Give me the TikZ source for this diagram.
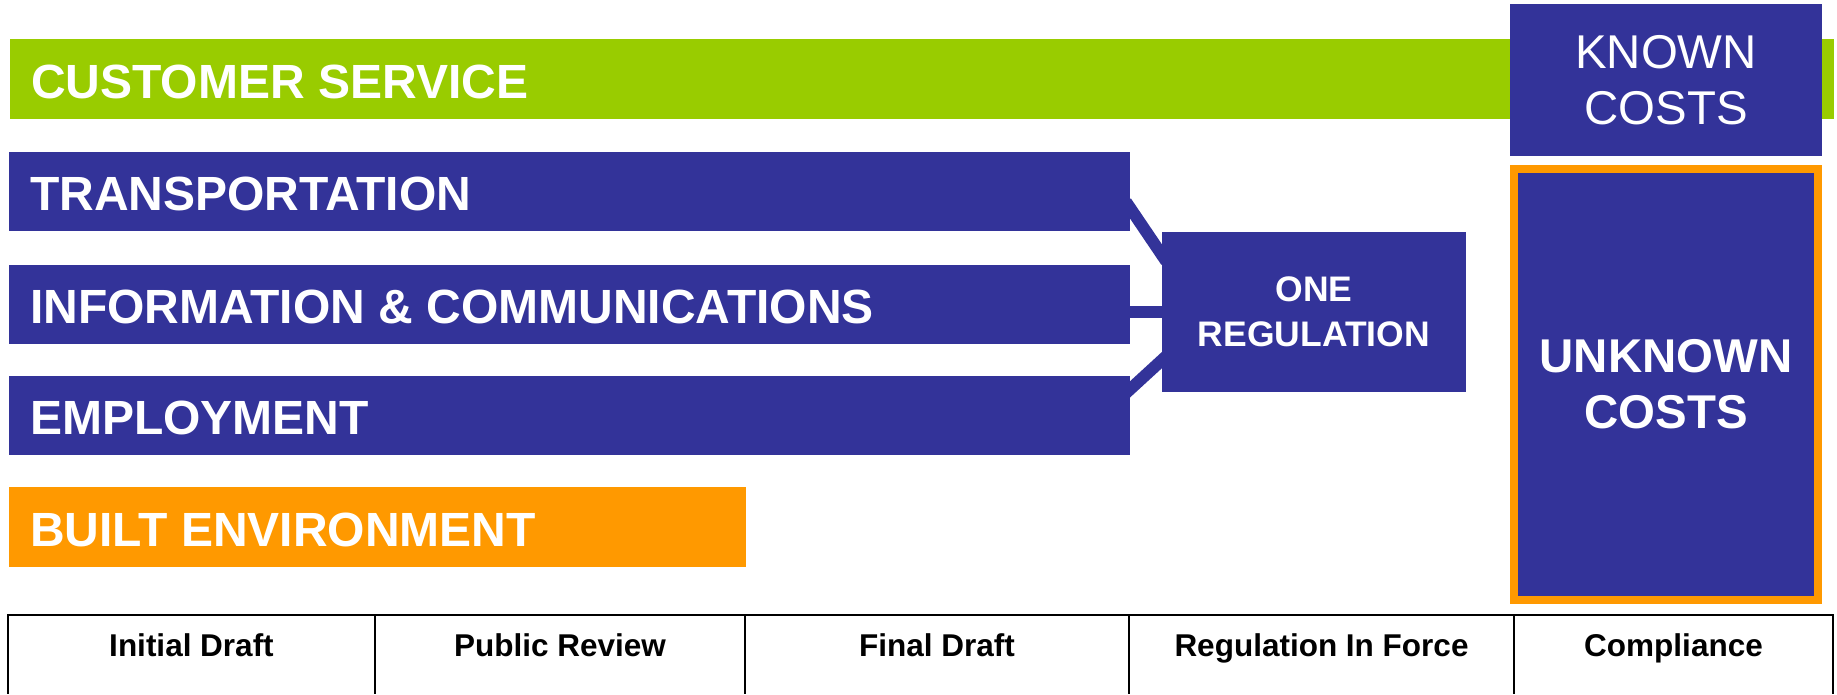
\documentclass[tikz,border=0pt]{standalone}
\usepackage{fontspec}
\setmainfont{Liberation Sans}
\pgfdeclarelayer{bg}
\pgfsetlayers{bg,main}
\definecolor{cgreen}{HTML}{99CC00}
\definecolor{cblue}{HTML}{333399}
\definecolor{corange}{HTML}{FF9900}
\begin{document}
\begin{tikzpicture}[x=1pt,y=-1pt,
 bar/.style={rectangle, inner sep=0pt, anchor=north west, minimum height=79pt},
 barlbl/.style={anchor=west, inner sep=0pt, xshift=21pt, yshift=-2.5pt, text=white, font=\fontsize{48}{58}\selectfont\bfseries},
 box/.style={rectangle, fill=cblue, inner sep=0pt, text=white, align=center},
 link/.style={draw=cblue, line width=12pt, shorten <=-8pt, shorten >=-8pt},
 cell/.style={anchor=base, inner sep=0pt, font=\fontsize{31.5}{38}\selectfont\bfseries},
 rule/.style={line width=2.5pt, draw=black}]
\useasboundingbox (0,0) rectangle (1837,694);

\node[bar, fill=cgreen, minimum width=1824pt, minimum height=80pt, label={[barlbl]west:CUSTOMER SERVICE}] (cs) at (10,39) {};
\node[bar, fill=cblue, minimum width=1121pt, label={[barlbl]west:TRANSPORTATION}] (tr) at (9,152) {};
\node[bar, fill=cblue, minimum width=1121pt, label={[barlbl]west:INFORMATION \& COMMUNICATIONS}] (info) at (9,265) {};
\node[bar, fill=cblue, minimum width=1121pt, label={[barlbl]west:EMPLOYMENT}] (emp) at (9,376) {};
\node[bar, fill=corange, minimum width=737pt, minimum height=80pt, label={[barlbl]west:BUILT ENVIRONMENT}] (built) at (9,487) {};

\node[box, minimum width=304pt, minimum height=160pt, font=\fontsize{35.5}{45}\selectfont\bfseries] (reg) at (1314,312) {ONE\\REGULATION};

\node[box, minimum width=312pt, minimum height=152pt, font=\fontsize{47.4}{56}\selectfont] (known) at (1666,80) {KNOWN\\COSTS};
\node[box, draw=corange, line width=8pt, minimum width=304pt, minimum height=431pt, font=\fontsize{47.4}{56}\selectfont\bfseries] (unknown) at (1666,384.5) {UNKNOWN\\COSTS};

\begin{pgfonlayer}{bg}
\draw[link] ([yshift=23pt]tr.south east) -- ([yshift=-23pt]reg.north west);
\draw[link] (info.east |- reg.west) -- (reg.west);
\draw[link] ([yshift=-13pt]emp.north east) -- ([yshift=32pt]reg.south west);
\end{pgfonlayer}

\draw[rule] (7,615) -- (1834,615);
\foreach \x in {8,375,745,1129,1514,1833} {\draw[rule] (\x,615) -- (\x,694);}

\node[cell] (c1) at (191.5,656) {Initial Draft};
\node[cell] (c2) at (560,656) {Public Review};
\node[cell] (c3) at (937,656) {Final Draft};
\node[cell] (c4) at (1321.5,656) {Regulation In Force};
\node[cell] (c5) at (1673.5,656) {Compliance};
\end{tikzpicture}
\end{document}
